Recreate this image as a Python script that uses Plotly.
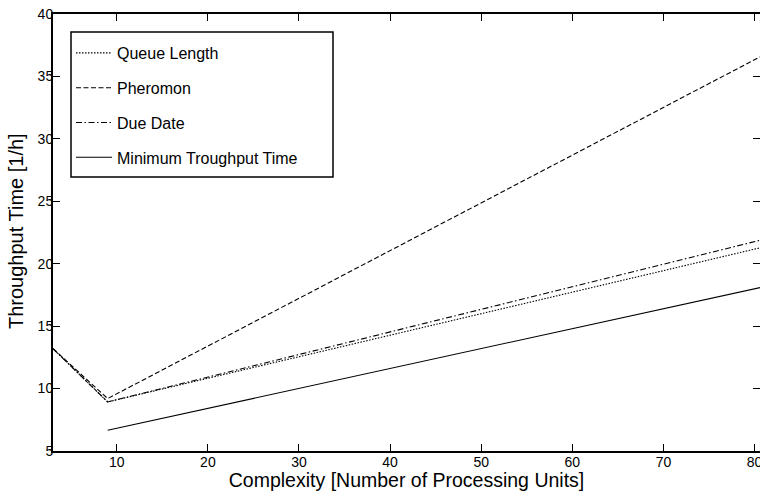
import plotly.graph_objects as go

x_all = [3, 9, 81]
x_min = [9, 81]
queue_length = [13.2, 8.93, 21.34]
pheromon = [13.2, 9.2, 36.72]
due_date = [13.2, 8.93, 21.95]
min_throughput = [6.66, 18.15]

names = ["Queue Length", "Pheromon", "Due Date", "Minimum Troughput Time"]
xtick_vals = [10, 20, 30, 40, 50, 60, 70, 80]
ytick_vals = [5, 10, 15, 20, 25, 30, 35, 40]

FONT = "Liberation Sans, Arial, Helvetica, sans-serif"

W, H = 760, 491
L, R, T, B = 53, 0, 14, 40
PW, PH = W - L - R, H - T - B


def px_x(p):
    return (p - L) / PW


def px_y(p):
    return 1 - (p - T) / PH


fig = go.Figure()
series = [
    (x_all, queue_length, "1.5px,1.5px", names[0]),
    (x_all, pheromon, "5px,2.5px", names[1]),
    (x_all, due_date, "6px,2.5px,1.5px,2.5px", names[2]),
    (x_min, min_throughput, "solid", names[3]),
]
for i, (xs, ys, dash, nm) in enumerate(series):
    fig.add_trace(go.Scatter(
        x=xs, y=ys, mode="lines", name=nm, legendgroup=f"g{i}",
        line=dict(color="black", width=1.1, dash=dash),
    ))

# legend frame
fig.add_shape(type="rect", xref="paper", yref="paper",
              x0=px_x(71), x1=px_x(333), y0=px_y(177), y1=px_y(32),
              line=dict(color="black", width=1.5), fillcolor="rgba(0,0,0,0)",
              layer="above")

# y-axis title
fig.add_annotation(text="Throughput Time [1/h]", xref="paper", yref="paper",
                   x=px_x(16), y=px_y(231), xanchor="center", yanchor="middle",
                   textangle=-90, showarrow=False,
                   font=dict(family=FONT, size=20, color="black"))

fig.update_layout(
    width=W, height=H,
    margin=dict(l=L, r=R, t=T, b=B, autoexpand=False),
    paper_bgcolor="white", plot_bgcolor="white",
    font=dict(family=FONT, color="black", size=14),
    showlegend=True,
    legend=dict(
        x=px_x(71), y=px_y(36), xanchor="left", yanchor="top",
        bgcolor="rgba(0,0,0,0)", borderwidth=0,
        font=dict(family=FONT, size=16, color="black"),
        traceorder="grouped", tracegroupgap=11,
        itemwidth=36,
    ),
    xaxis=dict(
        range=[3, 80.6], tickvals=xtick_vals, ticks="inside", ticklen=7,
        tickwidth=1, tickcolor="black", showline=True, linecolor="black",
        linewidth=2, mirror="ticks", showgrid=False, zeroline=False,
        tickfont=dict(size=14), ticklabeloverflow="allow",
        ticklabelstandoff=-3, automargin=False,
        title=dict(text="Complexity [Number of Processing Units]",
                   font=dict(size=19.5), standoff=0),
    ),
    yaxis=dict(
        range=[5, 40], tickvals=ytick_vals, ticks="inside", ticklen=7,
        tickwidth=1, tickcolor="black", showline=True, linecolor="black",
        linewidth=2, mirror="ticks", showgrid=False, zeroline=False,
        tickfont=dict(size=14), ticklabelstandoff=-5, automargin=False,
    ),
)

fig.write_html(
    "out.html",
    config={"displayModeBar": False},
    post_script="document.body.style.margin='0';document.body.style.overflow='hidden';",
)
